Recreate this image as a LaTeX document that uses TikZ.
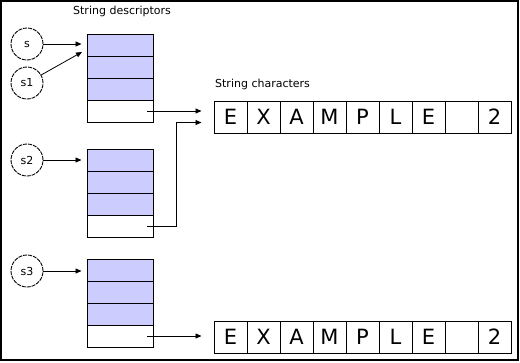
\documentclass[tikz,border=0pt]{standalone}
\usepackage{fontspec}
\setmainfont{DejaVu Sans}
\usetikzlibrary{arrows.meta,positioning}
\definecolor{cellblue}{RGB}{204,204,255}
\begin{document}
\begin{tikzpicture}[x=1pt,y=-1pt,
  ref/.style={draw,circle,line width=0.9pt,dash pattern=on 4pt off 1pt,minimum size=32pt,inner sep=0pt,font=\fontsize{11}{13}\selectfont},
  desc/.style={draw,line width=1pt,minimum width=66pt,minimum height=22pt,inner sep=0pt,anchor=center},
  filled/.style={desc,fill=cellblue},
  chr/.style={draw,line width=1pt,minimum width=33pt,minimum height=32pt,inner sep=0pt,font=\fontsize{21}{24}\selectfont},
  lab/.style={anchor=west,inner sep=0pt,font=\fontsize{11}{13}\selectfont},
  arr/.style={line width=0.8pt,-{Triangle[length=6pt,width=5pt]}}]
\useasboundingbox (0,0) rectangle (520,362);
\draw[line width=1.5pt] (0.75,0.75) rectangle (518,360);

\node[lab] (ld) at (73,11) {String descriptors};
\node[lab] (lc) at (215,84) {String characters};

% descriptor boxes
\foreach \b/\y in {1/45,2/160,3/270}{
  \node[filled] (d\b a) at (120,\y) {};
  \node[filled] (d\b b) at (120,\y+22) {};
  \node[filled] (d\b c) at (120,\y+44) {};
  \node[desc] (d\b d) at (120,\y+66) {};
}

% character arrays
\foreach \r/\y in {1/117,2/337}{
  \foreach \ch [count=\i] in {E,X,A,M,P,L,E,{},2}{
    \node[chr] (c\r-\i) at (230.5+33*\i-33,\y) {\ch};
  }
}

% references
\node[ref] (s) at (27,44) {s};
\node[ref] (s1) at (27,83) {s1};
\node[ref] (s2) at (27,160) {s2};
\node[ref] (s3) at (27,271) {s3};

\coordinate (t1) at (82,52);
\draw[arr] (s) -- ([xshift=-5pt]s -| d1a.west);
\draw[arr] (s1) -- (t1);
\draw[arr] (s2) -- ([xshift=-5pt]s2 -| d2a.west);
\draw[arr] (s3) -- ([xshift=-5pt]s3 -| d3a.west);

% pointers to characters
\coordinate (p1) at ([xshift=27pt]d1d.center);
\coordinate (p2) at ([xshift=27pt]d2d.center);
\coordinate (p3) at ([xshift=27pt]d3d.center);
\coordinate (q2) at ([yshift=-5.5pt]c1-1.west);
\coordinate (k) at (176,0);
\draw[arr] (p1) -- ([xshift=-12pt]p1 -| c1-1.west);
\draw[arr] (p2) -- (p2 -| k) -- (k |- q2) -- ([xshift=-12pt]q2);
\draw[arr] (p3) -- ([xshift=-12pt]p3 -| c2-1.west);
\end{tikzpicture}
\end{document}
